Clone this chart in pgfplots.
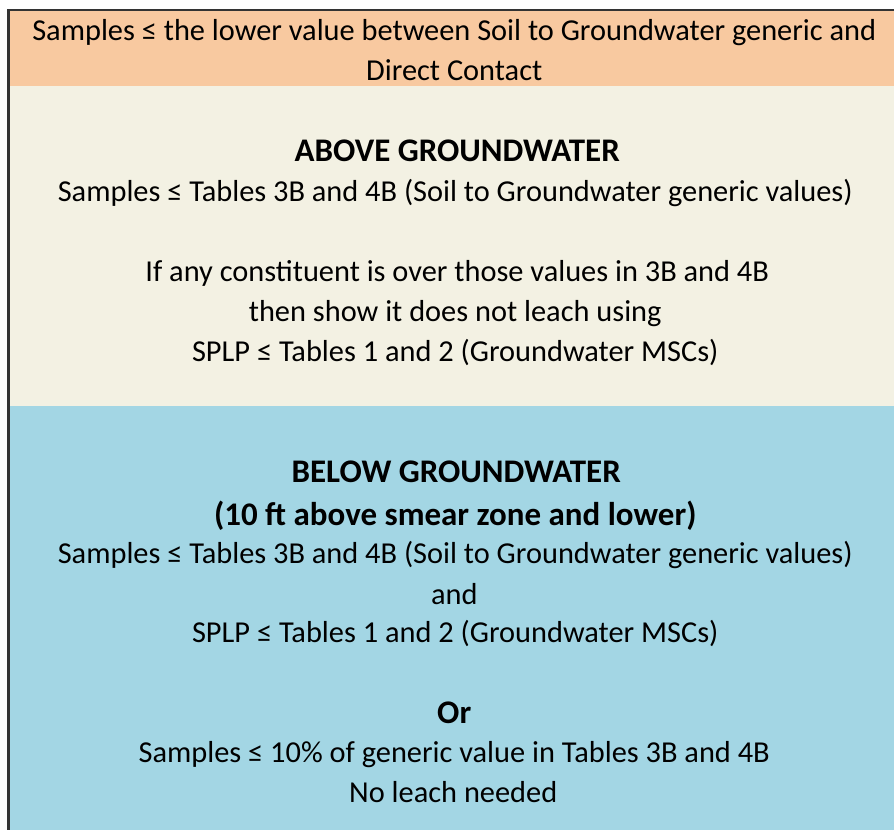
\documentclass[border=0pt]{standalone}
\usepackage{pgfplots}
\pgfplotsset{compat=1.18}
\usepackage{fontspec}
\setmainfont{Carlito}
\definecolor{orangeb}{HTML}{F8C9A0}
\definecolor{creamb}{HTML}{F3F1E3}
\definecolor{blueb}{HTML}{A3D6E4}
\definecolor{edge}{HTML}{333333}
\tikzset{rt/.style={font=\fontsize{8.66pt}{10pt}\selectfont, anchor=base, inner sep=0pt},
         bt/.style={font=\fontsize{9.4pt}{11pt}\selectfont\bfseries, anchor=base, inner sep=0pt}}
\begin{document}
\begin{tikzpicture}
\begin{axis}[scale only axis, width=8.95cm, height=8.31cm,
  xmin=0, xmax=895, ymin=0, ymax=831, y dir=reverse,
  axis lines=none, clip=false]
\addplot[fill=white, draw=none] coordinates {(0,0) (895,0) (895,831) (0,831)} -- cycle;
\addplot[fill=orangeb, draw=none] coordinates {(9,10) (895,10) (895,86) (9,86)} -- cycle;
\addplot[fill=creamb, draw=none] coordinates {(9,86) (895,86) (895,407) (9,407)} -- cycle;
\addplot[fill=blueb, draw=none] coordinates {(9,407) (895,407) (895,831) (9,831)} -- cycle;
\addplot[edge, line width=0.85pt] coordinates {(8.5,831) (8.5,10) (895,10)};
\node[rt] at (axis cs:455,41) {Samples ≤ the lower value between Soil to Groundwater generic and};
\node[rt] at (axis cs:455,81) {Direct Contact};
\node[bt] at (axis cs:458,162) {ABOVE GROUNDWATER};
\node[rt] at (axis cs:456,202) {Samples ≤ Tables 3B and 4B (Soil to Groundwater generic values)};
\node[rt] at (axis cs:458,282) {If any constituent is over those values in 3B and 4B};
\node[rt] at (axis cs:456,322) {then show it does not leach using};
\node[rt] at (axis cs:456,362) {SPLP ≤ Tables 1 and 2 (Groundwater MSCs)};
\node[bt] at (axis cs:457,483) {BELOW GROUNDWATER};
\node[bt] at (axis cs:456,526) {(10 ft above smear zone and lower)};
\node[rt] at (axis cs:456,564) {Samples ≤ Tables 3B and 4B (Soil to Groundwater generic values)};
\node[rt] at (axis cs:455,605) {and};
\node[rt] at (axis cs:456,644) {SPLP ≤ Tables 1 and 2 (Groundwater MSCs)};
\node[bt] at (axis cs:455,725) {Or};
\node[rt] at (axis cs:455,764) {Samples ≤ 10\% of generic value in Tables 3B and 4B};
\node[rt] at (axis cs:454,804) {No leach needed};
\end{axis}
\end{tikzpicture}
\end{document}
